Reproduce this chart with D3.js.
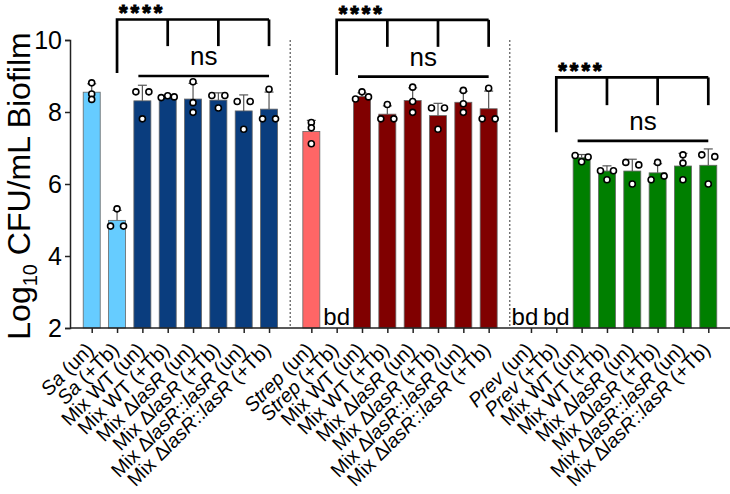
<!DOCTYPE html>
<html><head><meta charset="utf-8">
<script src="https://cdn.jsdelivr.net/npm/d3@7"></script>
<style>body{margin:0;background:#fff}svg{display:block}</style>
</head><body><svg id="chart" width="730" height="494"></svg>
<script>
// ---------- data ----------
const categories = [
  "*Sa* (un)", "*Sa* (+Tb)", "Mix WT (un)", "Mix WT (+Tb)", "Mix Δ*lasR* (un)", "Mix Δ*lasR* (+Tb)", "Mix Δ*lasR*::*lasR* (un)", "Mix Δ*lasR*::*lasR* (+Tb)",
  "*Strep* (un)", "*Strep* (+Tb)", "Mix WT (un)", "Mix WT (+Tb)", "Mix Δ*lasR* (un)", "Mix Δ*lasR* (+Tb)", "Mix Δ*lasR*::*lasR* (un)", "Mix Δ*lasR*::*lasR* (+Tb)",
  "*Prev* (un)", "*Prev* (+Tb)", "Mix WT (un)", "Mix WT (+Tb)", "Mix Δ*lasR* (un)", "Mix Δ*lasR* (+Tb)", "Mix Δ*lasR*::*lasR* (un)", "Mix Δ*lasR*::*lasR* (+Tb)"
];
const groupOf = [0,0,0,0,0,0,0,0, 1,1,1,1,1,1,1,1, 2,2,2,2,2,2,2,2];
const kindOf  = ["mono","mono","mix","mix","mix","mix","mix","mix",
                 "mono","mono","mix","mix","mix","mix","mix","mix",
                 "mono","mono","mix","mix","mix","mix","mix","mix"];
// bar heights (mean log10 CFU/mL); null = below detection (bd)
const means = [
  8.55, 4.99, 8.31, 8.43, 8.36, 8.33, 8.03, 8.08,
  7.46, null, 8.43, 7.94, 8.32, 7.90, 8.27, 8.09,
  null, null, 6.73, 6.36, 6.36, 6.31, 6.50, 6.52
];
// individual replicates
const replicates = [
  [8.81, 8.50, 8.35], [5.31, 4.83, 4.83], [8.56, 8.56, 7.81], [8.40, 8.45, 8.42],
  [8.84, 8.26, 7.99], [8.46, 8.46, 8.11], [8.29, 8.29, 7.52], [8.63, 7.81, 7.81],
  [7.71, 7.56, 7.12], [], [8.36, 8.56, 8.42], [8.21, 7.81, 7.81],
  [8.69, 8.29, 7.99], [8.11, 8.11, 7.52], [8.60, 8.23, 7.99], [8.66, 7.81, 7.81],
  [], [], [6.79, 6.62, 6.75], [6.37, 6.12, 6.37],
  [6.60, 6.53, 6.00], [6.12, 6.22, 6.60], [6.81, 6.58, 6.12], [6.81, 6.76, 6.00]
];
const yTicks = [2, 4, 6, 8, 10];
const groupColors = [
  {mono: "#66CCFF", mix: "#0A3D7E"},
  {mono: "#FF6666", mix: "#800000"},
  {mono: "#66CC66", mix: "#007F00"}
];
// significance annotations (in data units)
const sigRef     = [1, 9, 17];
const sigTargets = [[3,5,7], [11,13,15], [19,21,23]];
const sigTop     = [10.57, 10.56, 8.96];
const sigLegEnd  = [9.83, 9.81, 8.19];
const sigRefEnd  = [9.08, 9.03, 7.44];
const nsFrom     = [2, 10, 18];
const nsTo       = [7, 15, 23];
const nsLevel    = [9.00, 8.98, 7.20];
const sigStars   = ["****", "****", "****"];
const nsLabel    = ["ns", "ns", "ns"];

// ---------- layout ----------
const svg = d3.select("#chart");
const FONT = "'Liberation Sans', Arial, Helvetica, sans-serif";
const groupGap = 0.67;
const posIndex = categories.map((c, i) => i + groupOf[i] * groupGap);
const lastPos = posIndex[posIndex.length - 1];
const x = d3.scaleLinear().domain([-0.857, lastPos + 0.857]).range([70, 730]);
const y = d3.scaleLinear().domain([2, 10]).range([328, 40]);
const barW = 17;
const cx = i => x(posIndex[i]);

// separators
[0, 1].forEach(g => {
  const a = posIndex[groupOf.lastIndexOf(g)], b = posIndex[groupOf.indexOf(g + 1)];
  svg.append("line")
    .attr("x1", x((a + b) / 2)).attr("x2", x((a + b) / 2))
    .attr("y1", y(10)).attr("y2", y(2))
    .attr("stroke", "#333").attr("stroke-width", 1).attr("stroke-dasharray", "2,2");
});

// bars
const barData = means.map((m, i) => ({i, m})).filter(d => d.m !== null);
svg.append("g").selectAll("rect").data(barData).join("rect")
  .attr("x", d => cx(d.i) - barW / 2).attr("width", barW)
  .attr("y", d => y(d.m)).attr("height", d => y(2) - y(d.m))
  .attr("fill", d => groupColors[groupOf[d.i]][kindOf[d.i]])
  .attr("stroke", "#666").attr("stroke-width", 0.8);

// error bars (mean + SD)
const eb = svg.append("g").attr("stroke", "#555").attr("stroke-width", 1.2).attr("fill", "none");
barData.forEach(d => {
  const sd = d3.deviation(replicates[d.i]);
  const top = y(d.m + sd);
  eb.append("line").attr("x1", cx(d.i)).attr("x2", cx(d.i)).attr("y1", y(d.m)).attr("y2", top);
  eb.append("line").attr("x1", cx(d.i) - 4.5).attr("x2", cx(d.i) + 4.5).attr("y1", top).attr("y2", top);
});

// points: cluster by pixel proximity, spread clusters horizontally
const spread = 6.5, thresh = 4.5;
const pts = [];
replicates.forEach((vals, i) => {
  const items = vals.map((v, k) => ({v, k, py: y(v)}));
  const sorted = items.slice().sort((a, b) => a.py - b.py);
  const clusters = [];
  sorted.forEach(p => {
    const c = clusters[clusters.length - 1];
    if (c && p.py - c[c.length - 1].py < thresh) c.push(p); else clusters.push([p]);
  });
  clusters.forEach(c => {
    c.sort((a, b) => a.k - b.k);
    const n = c.length;
    c.forEach((p, j) => {
      const off = n === 1 ? 0 : (j - (n - 1) / 2) * (2 * spread / (n - 1));
      pts.push({x: cx(i) + off, y: p.py});
    });
  });
});
svg.append("g").selectAll("circle").data(pts).join("circle")
  .attr("cx", d => d.x).attr("cy", d => d.y).attr("r", 3)
  .attr("fill", "#fff").attr("stroke", "#000").attr("stroke-width", 1.6);

// bd labels (nudged left when the next category is also bd)
means.forEach((m, i) => {
  if (m !== null) return;
  const nudge = (i + 1 < means.length && means[i + 1] === null && groupOf[i + 1] === groupOf[i]) ? -6 : 0;
  svg.append("text").attr("x", cx(i) + nudge).attr("y", y(2) - 3)
    .attr("text-anchor", "middle").attr("font-family", FONT).attr("font-size", 24).text("bd");
});

// axes
const yAxis = svg.append("g").attr("transform", `translate(${x.range()[0]},0)`)
  .call(d3.axisLeft(y).tickValues(yTicks).tickSize(5).tickPadding(3).tickFormat(d3.format("d")));
yAxis.selectAll("text").attr("font-family", FONT).attr("font-size", 25).attr("fill", "#000");
yAxis.select(".domain").attr("stroke", "#222").attr("stroke-width", 1.5);
yAxis.selectAll(".tick line").attr("stroke", "#222").attr("stroke-width", 1.5);

const xAxis = svg.append("g").attr("transform", `translate(0,${y(2)})`)
  .call(d3.axisBottom(x).tickValues(posIndex).tickSize(5).tickFormat(""));
xAxis.select(".domain").attr("stroke", "#222").attr("stroke-width", 1.5).attr("d", `M${x.range()[0]},0H${x.range()[1]}`);
xAxis.selectAll(".tick line").attr("stroke", "#222").attr("stroke-width", 1.5);

// x labels with italic parts
categories.forEach((c, i) => {
  const t = svg.append("text")
    .attr("transform", `translate(${cx(i) + 3},351) rotate(-45)`)
    .attr("text-anchor", "end").attr("font-family", FONT).attr("font-size", 19.8);
  c.split("*").forEach((part, k) => {
    if (part.length) t.append("tspan").attr("font-style", k % 2 ? "italic" : "normal").text(part);
  });
});

// y label
const yl = svg.append("text").attr("transform", `translate(30,${(y(2) + y(10)) / 2 + 2}) rotate(-90)`)
  .attr("text-anchor", "middle").attr("font-family", FONT).attr("font-size", 32);
yl.append("tspan").text("Log");
yl.append("tspan").attr("font-size", 20).attr("dy", 7).text("10");
yl.append("tspan").attr("dy", -7).text(" CFU/mL Biofilm");

// significance brackets
const ann = svg.append("g").attr("stroke", "#000").attr("stroke-width", 2.7).attr("fill", "none");
sigRef.forEach((r, g) => {
  const xl = cx(r), xr = cx(sigTargets[g][sigTargets[g].length - 1]);
  const yt = y(sigTop[g]);
  ann.append("path").attr("d", `M${xl},${y(sigRefEnd[g])}V${yt}H${xr}`);
  sigTargets[g].forEach(t => ann.append("line").attr("x1", cx(t)).attr("x2", cx(t)).attr("y1", yt).attr("y2", y(sigLegEnd[g])));
  svg.append("text").attr("x", xl + 2).attr("y", yt + 1).attr("font-family", FONT)
    .attr("font-weight", "bold").attr("font-size", 22).attr("letter-spacing", 3)
    .attr("stroke", "#000").attr("stroke-width", 1).text(sigStars[g]);
  const nx1 = cx(nsFrom[g]) - 4, nx2 = cx(nsTo[g]);
  ann.append("line").attr("x1", nx1).attr("x2", nx2).attr("y1", y(nsLevel[g])).attr("y2", y(nsLevel[g]));
  svg.append("text").attr("x", (nx1 + nx2) / 2).attr("y", y(nsLevel[g]) - 11)
    .attr("text-anchor", "middle").attr("font-family", FONT).attr("font-size", 26).text(nsLabel[g]);
});
</script>
</body></html>
